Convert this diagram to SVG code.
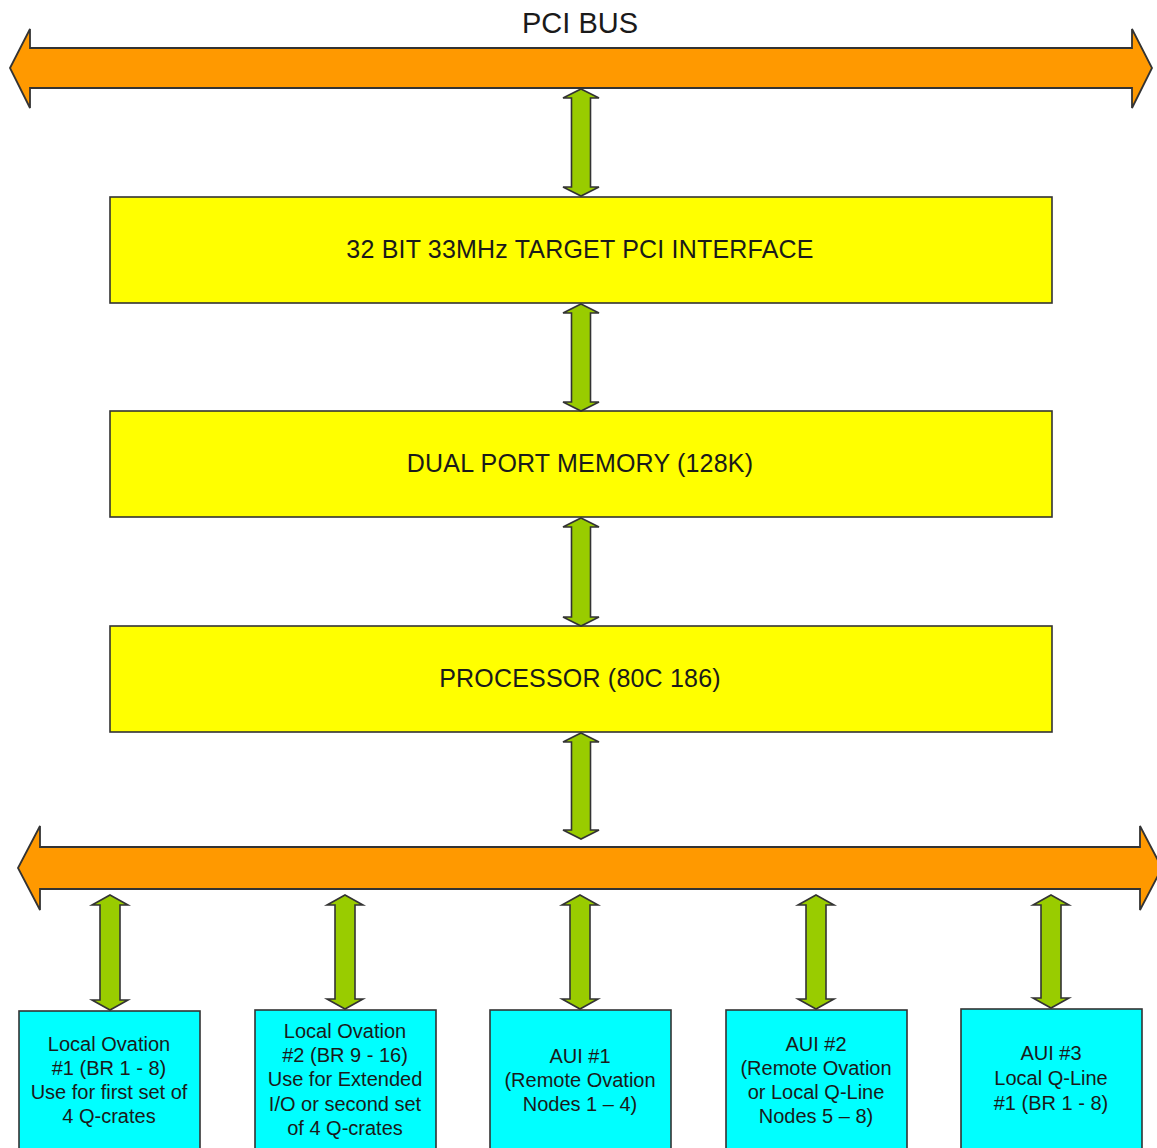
<svg xmlns="http://www.w3.org/2000/svg" width="1157" height="1148" viewBox="0 0 1157 1148">
  <style>
    .bus { fill: #FF9900; stroke: #333333; stroke-width: 1.8; stroke-linejoin: miter; }
    .link { fill: #99CC00; stroke: #333333; stroke-width: 1.6; }
    .block { fill: #FFFF00; stroke: #333333; stroke-width: 1.6; }
    .port { fill: #00FFFF; stroke: #333333; stroke-width: 1.6; }
    text { font-family: "Liberation Sans", Arial, sans-serif; fill: #1a1a1a; text-anchor: middle; }
    .big { font-size: 25px; letter-spacing: 0.2px; }
    .title { font-size: 29px; }
    .small { font-size: 20px; }
  </style>
  <rect width="1157" height="1148" fill="#ffffff"/>

  <!-- PCI bus -->
  <g id="pci-bus">
    <polygon class="bus" points="10,68 30,29 30,48 1132,48 1132,29 1152,68 1132,108 1132,88 30,88 30,108"/>
    <text class="title" x="580" y="33">PCI BUS</text>
  </g>

  <!-- Local bus -->
  <g id="local-bus">
    <polygon class="bus" points="18,868 40,826 40,847 1140,847 1140,826 1162,868 1140,910 1140,889 40,889 40,910"/>
  </g>

  <!-- Main blocks -->
  <g id="pci-interface">
    <rect class="block" x="110" y="197" width="942" height="106"/>
    <text class="big" x="580" y="258">32 BIT 33MHz TARGET PCI INTERFACE</text>
  </g>
  <g id="dual-port-memory">
    <rect class="block" x="110" y="411" width="942" height="106"/>
    <text class="big" x="580" y="472">DUAL PORT MEMORY (128K)</text>
  </g>
  <g id="processor">
    <rect class="block" x="110" y="626" width="942" height="106"/>
    <text class="big" x="580" y="687">PROCESSOR (80C 186)</text>
  </g>

  <!-- Port boxes -->
  <g id="local-ovation-1">
    <rect class="port" x="19" y="1011" width="181" height="150"/>
    <text class="small" x="109" y="1051">Local Ovation</text>
    <text class="small" x="109" y="1075">#1 (BR 1 - 8)</text>
    <text class="small" x="109" y="1099">Use for first set of</text>
    <text class="small" x="109" y="1123">4 Q-crates</text>
  </g>
  <g id="local-ovation-2">
    <rect class="port" x="255" y="1010" width="181" height="150"/>
    <text class="small" x="345" y="1038">Local Ovation</text>
    <text class="small" x="345" y="1062">#2 (BR 9 - 16)</text>
    <text class="small" x="345" y="1086">Use for Extended</text>
    <text class="small" x="345" y="1111">I/O or second set</text>
    <text class="small" x="345" y="1135">of 4 Q-crates</text>
  </g>
  <g id="aui-1">
    <rect class="port" x="490" y="1010" width="181" height="150"/>
    <text class="small" x="580" y="1063">AUI #1</text>
    <text class="small" x="580" y="1087">(Remote Ovation</text>
    <text class="small" x="580" y="1111">Nodes 1 – 4)</text>
  </g>
  <g id="aui-2">
    <rect class="port" x="726" y="1010" width="181" height="150"/>
    <text class="small" x="816" y="1051">AUI #2</text>
    <text class="small" x="816" y="1075">(Remote Ovation</text>
    <text class="small" x="816" y="1099">or Local Q-Line</text>
    <text class="small" x="816" y="1123">Nodes 5 – 8)</text>
  </g>
  <g id="aui-3">
    <rect class="port" x="961" y="1009" width="181" height="150"/>
    <text class="small" x="1051" y="1060">AUI #3</text>
    <text class="small" x="1051" y="1085">Local Q-Line</text>
    <text class="small" x="1051" y="1110">#1 (BR 1 - 8)</text>
  </g>

  <!-- Bidirectional links -->
  <g id="connectors">
    <polygon class="link" points="581,89 599,98 590.5,98 590.5,187 599,187 581,196 563,187 571.5,187 571.5,98 563,98"/>
    <polygon class="link" points="581,304 599,313 590.5,313 590.5,402 599,402 581,411 563,402 571.5,402 571.5,313 563,313"/>
    <polygon class="link" points="581,518 599,527 590.5,527 590.5,617 599,617 581,626 563,617 571.5,617 571.5,527 563,527"/>
    <polygon class="link" points="581,733 599,742 590.5,742 590.5,830 599,830 581,839 563,830 571.5,830 571.5,742 563,742"/>

    <polygon class="link" points="110,895 128,905 120,905 120,1000 128,1000 110,1010 92,1000 100,1000 100,905 92,905"/>
    <polygon class="link" points="345,895 363,905 355,905 355,999 363,999 345,1009 327,999 335,999 335,905 327,905"/>
    <polygon class="link" points="580,895 598,905 590,905 590,999 598,999 580,1009 562,999 570,999 570,905 562,905"/>
    <polygon class="link" points="816,895 834,905 826,905 826,999 834,999 816,1009 798,999 806,999 806,905 798,905"/>
    <polygon class="link" points="1051,895 1069,905 1061,905 1061,998 1069,998 1051,1008 1033,998 1041,998 1041,905 1033,905"/>
  </g>
</svg>
